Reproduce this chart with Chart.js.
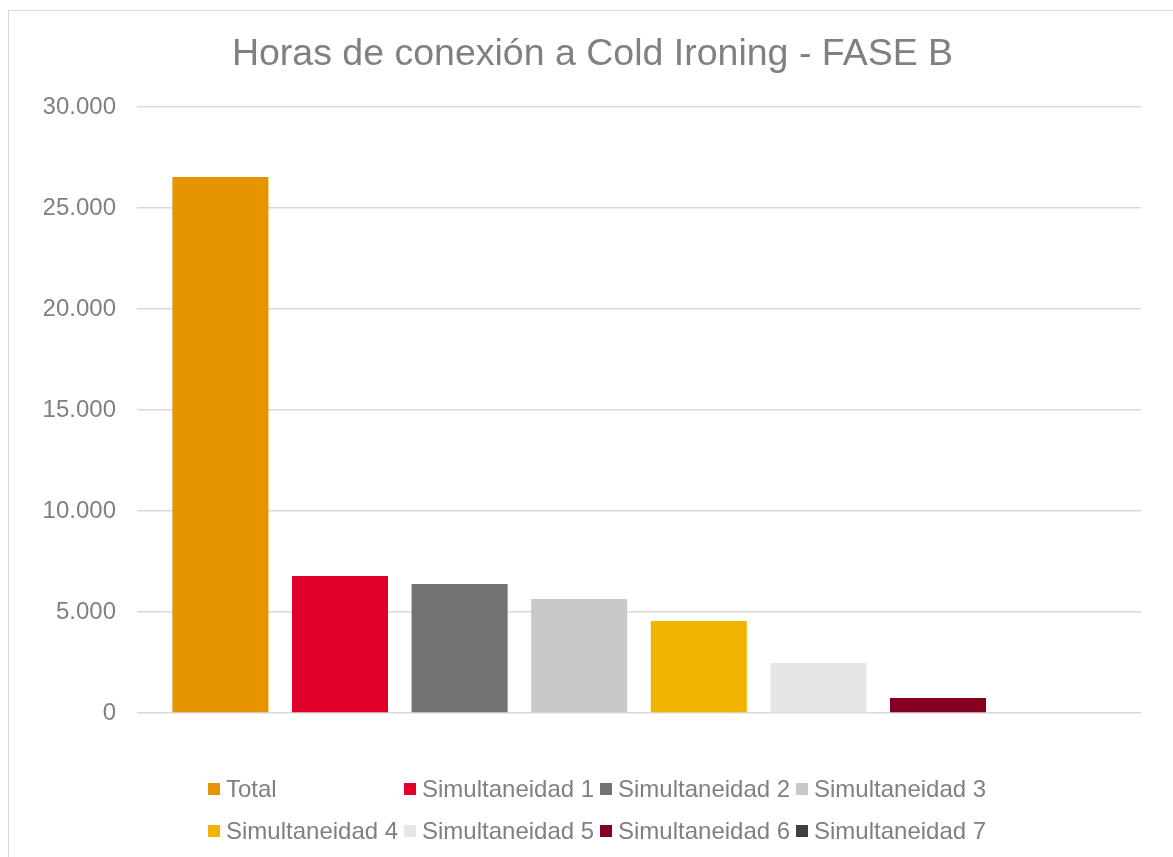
<!DOCTYPE html>
<html>
<head>
<meta charset="utf-8">
<script src="https://cdn.jsdelivr.net/npm/chart.js@4"></script>
<style>
  body { margin: 0; background: #fff; overflow: hidden; font-family: "Liberation Sans", Arial, sans-serif; }
  #wrap { position: relative; width: 1173px; height: 857px; }
  #frame { position: absolute; left: 8px; top: 10px; width: 1200px; height: 900px; border: 1px solid #d9d9d9; box-sizing: border-box; }
  #chartCanvas { position: absolute; left: 0; top: 0; }
  #legend { position: absolute; left: 208px; top: 775px; display: grid; grid-template-columns: repeat(4, 196px); row-gap: 14px; }
  .item { display: flex; align-items: center; height: 28px; color: #808080; font-size: 24px; white-space: nowrap; }
  .box { width: 12px; height: 12px; margin-right: 6px; flex: none; }
</style>
</head>
<body>
<div id="wrap">
  <div id="frame"></div>
  <canvas id="chartCanvas" width="1173" height="857"></canvas>
  <div id="legend"></div>
</div>
<script>
const titleText = "Horas de conexión a Cold Ironing - FASE B";
const seriesNames = ["Total", "Simultaneidad 1", "Simultaneidad 2", "Simultaneidad 3",
  "Simultaneidad 4", "Simultaneidad 5", "Simultaneidad 6", "Simultaneidad 7"];
const seriesValues = [26530, 6780, 6390, 5640, 4550, 2480, 740, 0];
const seriesColors = ["#e69500", "#e0002a", "#727272", "#c8c8c8",
  "#f0b400", "#e6e6e6", "#850020", "#404040"];

const datasets = seriesNames.map((name, i) => ({
  label: name,
  data: [seriesValues[i]],
  backgroundColor: seriesColors[i],
  borderWidth: 0,
  barPercentage: 0.803,
  categoryPercentage: 0.953
}));

// legend in 4 columns like the original
const legend = document.getElementById("legend");
seriesNames.forEach((name, i) => {
  legend.insertAdjacentHTML("beforeend",
    `<div class="item"><span class="box" style="background:${seriesColors[i]}"></span>${name}</div>`);
});

const ctx = document.getElementById("chartCanvas").getContext("2d");
new Chart(ctx, {
  type: "bar",
  data: { labels: [""], datasets: datasets },
  options: {
    responsive: false,
    animation: false,
    layout: { padding: { top: 18, right: 32, bottom: 144, left: 44 } },
    plugins: {
      legend: { display: false },
      tooltip: { enabled: false },
      title: {
        display: true,
        text: titleText,
        color: "#808080",
        font: { family: "Liberation Sans", size: 37.5, weight: "normal" },
        padding: { top: 14, bottom: 30 }
      }
    },
    scales: {
      x: { display: false },
      y: {
        min: 0,
        max: 30000,
        afterFit: (s) => { s.width = 93; },
        border: { display: false },
        grid: { color: "#d9d9d9", lineWidth: 1.5, drawTicks: false },
        ticks: {
          stepSize: 5000,
          padding: 21,
          color: "#808080",
          font: { family: "Liberation Sans", size: 24 },
          callback: (v) => v.toLocaleString("de-DE")
        }
      }
    }
  }
});
</script>
</body>
</html>
